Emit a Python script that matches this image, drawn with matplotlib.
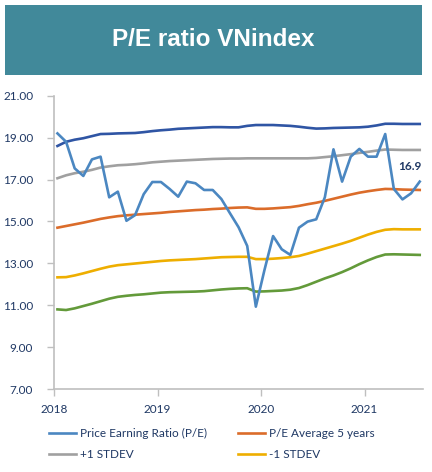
import matplotlib
matplotlib.use("Agg")
import matplotlib.pyplot as plt
from matplotlib.patches import Rectangle
import numpy as np

# ---- data (monthly, Jan 2018 .. Jul 2021) ----
pe = [19.20, 18.80, 17.53, 17.17, 17.96, 18.09, 16.15, 16.42, 15.03, 15.30,
      16.30, 16.88, 16.88, 16.55, 16.18, 16.90, 16.82, 16.50, 16.50, 16.07,
      15.39, 14.72, 13.83, 10.93, 12.68, 14.30, 13.67, 13.40, 14.70, 14.99,
      15.10, 16.15, 18.44, 16.90, 18.09, 18.46, 18.09, 18.09, 19.17, 16.55,
      16.05, 16.34, 16.90]
plus2 = [18.60, 18.80, 18.90, 18.97, 19.07, 19.17, 19.18, 19.20, 19.21, 19.22,
         19.26, 19.31, 19.35, 19.38, 19.42, 19.44, 19.46, 19.48, 19.50, 19.50,
         19.49, 19.49, 19.56, 19.60, 19.60, 19.60, 19.58, 19.56, 19.52, 19.47,
         19.43, 19.44, 19.46, 19.47, 19.48, 19.49, 19.52, 19.58, 19.66, 19.66,
         19.65, 19.65, 19.65]
plus1 = [17.06, 17.20, 17.30, 17.37, 17.46, 17.57, 17.63, 17.68, 17.70, 17.73,
         17.77, 17.82, 17.85, 17.88, 17.90, 17.92, 17.94, 17.96, 17.98, 17.99,
         18.00, 18.00, 18.01, 18.01, 18.01, 18.01, 18.01, 18.01, 18.01, 18.01,
         18.03, 18.07, 18.11, 18.16, 18.21, 18.27, 18.32, 18.38, 18.43, 18.42,
         18.41, 18.41, 18.41]
avg5 = [14.70, 14.78, 14.86, 14.94, 15.03, 15.12, 15.19, 15.25, 15.29, 15.32,
        15.35, 15.38, 15.41, 15.45, 15.48, 15.51, 15.54, 15.56, 15.59, 15.61,
        15.64, 15.66, 15.67, 15.60, 15.60, 15.62, 15.65, 15.68, 15.74, 15.82,
        15.89, 15.98, 16.08, 16.18, 16.28, 16.37, 16.44, 16.50, 16.55, 16.54,
        16.52, 16.51, 16.50]
minus1 = [12.33, 12.34, 12.42, 12.52, 12.63, 12.74, 12.84, 12.91, 12.95, 12.99,
          13.03, 13.07, 13.11, 13.14, 13.16, 13.18, 13.20, 13.23, 13.26, 13.29,
          13.30, 13.31, 13.31, 13.20, 13.20, 13.22, 13.25, 13.29, 13.35, 13.46,
          13.58, 13.70, 13.82, 13.94, 14.07, 14.22, 14.37, 14.50, 14.60, 14.63,
          14.62, 14.62, 14.62]
minus2 = [10.80, 10.77, 10.85, 10.96, 11.07, 11.19, 11.31, 11.40, 11.45, 11.49,
          11.52, 11.56, 11.60, 11.62, 11.63, 11.64, 11.65, 11.67, 11.71, 11.75,
          11.78, 11.80, 11.81, 11.65, 11.66, 11.68, 11.70, 11.74, 11.82, 11.96,
          12.12, 12.28, 12.42, 12.58, 12.76, 12.96, 13.14, 13.30, 13.42, 13.43,
          13.42, 13.41, 13.40]
years = [2018, 2019, 2020, 2021]
yticks = [7, 9, 11, 13, 15, 17, 19, 21]
title = "P/E ratio VNindex"
labels = ["Price Earning Ratio (P/E)", "P/E Average 5 years", "+1 STDEV", "-1 STDEV"]
last_label = "16.9"

x = 2018 + (np.arange(len(pe)) + 0.4) / 12.0

NAVY = "#1f3864"
FONT = ["Lato", "DejaVu Sans"]
plt.rcParams['font.family'] = FONT

fig = plt.figure(figsize=(4.32, 4.72), dpi=100)
fig.patch.set_facecolor("white")

# title banner
fig.patches.append(Rectangle((5 / 432, 1 - 75 / 472), 417 / 432, 70 / 472,
                             transform=fig.transFigure, facecolor="#41899a",
                             edgecolor="none", zorder=0))
fig.text(0.494, 1 - 39.5 / 472, title, color="white", fontsize=17.5,
         fontweight="bold", family=["Liberation Sans", "DejaVu Sans"],
         ha="center", va="center")

ax = fig.add_axes([54 / 432, 1 - 389 / 472, 369 / 432, 293.3 / 472])
lw = 1.9
ax.plot(x, plus2, color="#2f55a4", lw=lw)
l_p1, = ax.plot(x, plus1, color="#a0a0a0", lw=lw)
l_avg, = ax.plot(x, avg5, color="#db6c2a", lw=lw)
l_m1, = ax.plot(x, minus1, color="#eeae00", lw=lw)
ax.plot(x, minus2, color="#639a3a", lw=lw)
l_pe, = ax.plot(x, pe, color="#4b87c1", lw=lw)

ax.text(x[-1] - 0.09, pe[-1] + 0.72, last_label, color=NAVY, fontsize=8.5,
        fontweight="bold", ha="center", va="center")

ax.set_xlim(2018, 2021.565)
ax.set_ylim(7, 21)
ax.set_yticks(yticks)
ax.set_yticklabels([f"{v:.2f}" for v in yticks])
ax.set_xticks(years)
ax.set_xticklabels([str(y) for y in years])
for s in ["top", "right"]:
    ax.spines[s].set_visible(False)
for s in ["left", "bottom"]:
    ax.spines[s].set_color("#bfbfbf")
    ax.spines[s].set_linewidth(1.2)
ax.tick_params(axis="both", colors="#bfbfbf", labelcolor=NAVY, labelsize=8.5,
               length=5, width=1.0)
ax.tick_params(axis="y", pad=10)
ax.tick_params(axis="x", pad=6)

# legend: column-major fill -> row1: P/E, Avg ; row2: +1, -1
hs = [l_pe, l_p1, l_avg, l_m1]
ls = [labels[0], labels[2], labels[1], labels[3]]
leg = fig.legend(hs, ls, ncol=2, loc="upper left",
                 bbox_to_anchor=(38 / 432, 1 - 417 / 472), frameon=False,
                 fontsize=8.5, handlelength=2.3, handletextpad=0.35,
                 columnspacing=2.6, labelspacing=0.85, labelcolor=NAVY)

fig.savefig("out.png", dpi=100)
